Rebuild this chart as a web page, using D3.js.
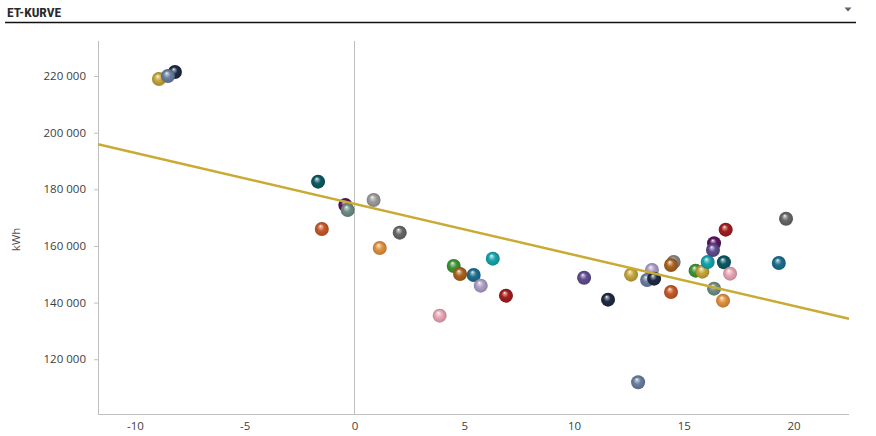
<!DOCTYPE html>
<html><head><meta charset="utf-8">
<script src="https://cdn.jsdelivr.net/npm/d3@7"></script>
<style>
html,body{margin:0;padding:0;background:#fff;}
svg{display:block;}
</style></head>
<body>
<svg id="chart" width="876" height="436"></svg>
<script>
// ---- data ----
const title = "ET-KURVE";
const yLabel = "kWh";
const xTicks = [-10, -5, 0, 5, 10, 15, 20];
const yTicks = [120000, 140000, 160000, 180000, 200000, 220000];
// temperature (x), consumption kWh (y), series id of each point
const temps = [-8.18, -8.91, -8.50, -1.66, -0.42, -0.31, 0.87, -1.49, 1.15, 2.06, 3.88, 4.52, 4.81, 5.43, 5.75, 6.30, 6.90,
  10.46, 11.55, 12.60, 13.55, 13.33, 13.65, 14.54, 14.42, 14.42, 15.54, 15.85, 16.09, 16.38, 16.33, 16.91, 16.83, 17.11, 16.38, 16.79, 19.66, 19.33, 12.92];
const kwh = [221400, 218940, 220000, 182700, 174470, 172700, 176230, 166000, 159290, 164700, 135390, 152940, 150110, 149760, 145990, 155520, 142450,
  148800, 141040, 149860, 151520, 147990, 148450, 154340, 153300, 143760, 151280, 150930, 154340, 160950, 158580, 165750, 154230, 150220, 144930, 140690, 169630, 153990, 111890];
const series = ["navy","gold","slate","darkTeal","darkPurple","greyGreen","lightGrey","rust","lightOrange","darkGrey","pink","green","brown","tealBlue","lavender","cyan","darkRed",
  "purple","navy","gold","lavender","slate","navy","grey","brown","rust","green","gold","cyan","darkPurple","purple","darkRed","darkTeal","pink","greyGreen","lightOrange","darkGrey","tealBlue","slate"];

// ---- styles ----
const palette = {
  navy:"#1f2b45", gold:"#c5a63a", slate:"#6a7fa2", darkTeal:"#0d5a64", darkPurple:"#5c1462", greyGreen:"#6f8e85",
  lightGrey:"#9c9c9c", rust:"#c65a2a", lightOrange:"#e2923f", darkGrey:"#686868", pink:"#e9a6b5", green:"#3f9535",
  brown:"#a9631f", tealBlue:"#1d6e8e", lavender:"#ad9ec7", cyan:"#15a5ad", darkRed:"#a51d1d", purple:"#5f4d8f", grey:"#8a8a8a"
};

const svg = d3.select("#chart");
const pLeft = 98, pRight = 849, pTop = 41, pBottom = 414;

const x = d3.scaleLinear().domain([-11.686, 22.528]).range([pLeft, pRight]);
const y = d3.scaleLinear().domain([100670, 232360]).range([pBottom, pTop]);

// header
svg.append("text").attr("x", 7).attr("y", 17).text(title)
  .attr("font-family", "'Liberation Sans Narrow','Roboto Condensed',Roboto,sans-serif")
  .attr("font-size", 13.5).attr("font-weight", "bold").attr("fill", "#2a2a2a");
svg.append("line").attr("x1", 5).attr("x2", 856).attr("y1", 22.5).attr("y2", 22.5)
  .attr("stroke", "#111").attr("stroke-width", 1.5);
svg.append("path").attr("d", "M844.5,7.5 L851.5,7.5 L848,11.5 Z").attr("fill", "#5b6374");

// gradients
const defs = svg.append("defs");
Object.entries(palette).forEach(([k, c]) => {
  const base = d3.color(c);
  const g = defs.append("radialGradient").attr("id", "g_" + k)
    .attr("cx", "50%").attr("cy", "55%").attr("r", "55%").attr("fx", "40%").attr("fy", "28%");
  g.append("stop").attr("offset", "0%").attr("stop-color", "#ffffff");
  g.append("stop").attr("offset", "14%").attr("stop-color", d3.interpolateRgb(c, "#fff")(0.55));
  g.append("stop").attr("offset", "45%").attr("stop-color", base.formatHex());
  g.append("stop").attr("offset", "85%").attr("stop-color", base.darker(0.5).formatHex());
  g.append("stop").attr("offset", "100%").attr("stop-color", base.darker(0.9).formatHex());
});

// axes
const tickFont = "'Open Sans','Segoe UI',sans-serif";
const yAxis = d3.axisLeft(y).tickValues(yTicks).tickSize(4).tickPadding(8)
  .tickFormat(d => d3.format(",")(d).replace(/,/g, " "));
const gy = svg.append("g").attr("transform", `translate(${pLeft},0)`).call(yAxis);
gy.select(".domain").remove();
gy.selectAll("line").attr("stroke", "#bfbfbf");
gy.selectAll("text").attr("font-family", tickFont).attr("font-size", 11.5).attr("fill", "#404040");

const xAxis = d3.axisBottom(x).tickValues(xTicks).tickSize(0).tickPadding(8).tickFormat(d => String(d));
const gx = svg.append("g").attr("transform", `translate(0,${pBottom})`).call(xAxis);
gx.select(".domain").remove();
gx.selectAll("text").attr("font-family", tickFont).attr("font-size", 11.5).attr("fill", "#404040");

svg.append("line").attr("x1", pLeft + 0.5).attr("x2", pLeft + 0.5).attr("y1", pTop).attr("y2", pBottom)
  .attr("stroke", "#bfbfbf");
svg.append("line").attr("x1", pLeft).attr("x2", pRight).attr("y1", pBottom + 0.5).attr("y2", pBottom + 0.5)
  .attr("stroke", "#bfbfbf");
svg.append("line").attr("x1", Math.floor(x(0)) + 0.5).attr("x2", Math.floor(x(0)) + 0.5).attr("y1", pTop).attr("y2", pBottom)
  .attr("stroke", "#bfbfbf");

svg.append("text").attr("transform", `translate(20,${(pTop + pBottom) / 2 + 12}) rotate(-90)`)
  .attr("text-anchor", "middle").attr("font-family", tickFont).attr("font-size", 11.5).attr("fill", "#505050")
  .text(yLabel);

// points
const pts = temps.map((t, i) => ({ t, v: kwh[i], s: series[i] }));
svg.append("g").selectAll("circle").data(pts).join("circle")
  .attr("cx", d => x(d.t)).attr("cy", d => y(d.v)).attr("r", 7)
  .attr("fill", d => `url(#g_${d.s})`);

// linear trend (least squares)
const mx = d3.mean(temps), my = d3.mean(kwh);
let sxy = 0, sxx = 0;
temps.forEach((t, i) => { sxy += (t - mx) * (kwh[i] - my); sxx += (t - mx) * (t - mx); });
const slope = sxy / sxx, icpt = my - slope * mx;
const dom = x.domain();
svg.append("path").datum(dom.map(t => [t, icpt + slope * t]))
  .attr("d", d3.line().x(d => x(d[0])).y(d => y(d[1])))
  .attr("stroke", "#c9aa33").attr("stroke-width", 2.5).attr("fill", "none");
</script>
</body></html>
